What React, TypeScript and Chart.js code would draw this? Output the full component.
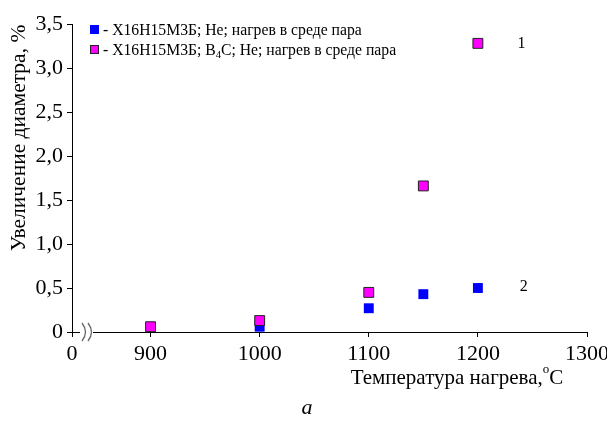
import { useEffect, useRef } from 'react';
import { Chart, registerables } from 'chart.js';

Chart.register(...registerables);

const FONT = '"Liberation Serif", "Times New Roman", serif';

// Series 1 (magenta): Х16Н15М3Б; B4C; He
const tempsB4C = [900, 1000, 1100, 1150, 1200];
const valuesB4C = [0.06, 0.13, 0.45, 1.66, 3.28];

// Series 2 (blue): Х16Н15М3Б; He
const tempsPlain = [1000, 1100, 1150, 1200];
const valuesPlain = [0.06, 0.27, 0.43, 0.5];

const seriesLabels = [
  '- Х16Н15М3Б; Не; нагрев в среде пара',
  '- Х16Н15М3Б; B₄C; Не; нагрев в среде пара',
];
const seriesColors = ['#0000FF', '#FF00FF'];

// x axis is broken: the first tick stands for 0
const xTickValues = [828, 900, 1000, 1100, 1200, 1300];
const xTickLabels = ['0', '900', '1000', '1100', '1200', '1300'];
const yMin = 0;
const yMax = 3.5;
const yStep = 0.5;

const curveLabels = [
  { text: '1', x: 1240, y: 3.27 },
  { text: '2', x: 1242, y: 0.51 },
];

const xTitle = 'Температура нагрева,';
const xTitleUnit = 'C';
const yTitle = 'Увеличение диаметра, %';
const caption = 'а';

const overlayPlugin = {
  id: 'overlay',
  afterDraw(chart: any) {
    const ctx = chart.ctx as CanvasRenderingContext2D;
    const area = chart.chartArea;
    const xs = chart.scales.x;
    const ys = chart.scales.y;
    ctx.save();

    // axis break
    const by = area.bottom;
    const bx = area.left;
    ctx.fillStyle = '#fff';
    ctx.fillRect(bx + 8, by - 2, 13, 4);
    ctx.strokeStyle = '#666';
    ctx.lineWidth = 1.3;
    [bx + 10, bx + 16].forEach((x0) => {
      ctx.beginPath();
      ctx.moveTo(x0, by - 9);
      ctx.quadraticCurveTo(x0 + 7, by, x0, by + 9);
      ctx.stroke();
    });

    // legend
    const lx = area.left + 18;
    const rows = [area.top + 6, area.top + 26];
    ctx.textBaseline = 'alphabetic';
    ctx.textAlign = 'left';
    seriesLabels.forEach((label, i) => {
      const cy = rows[i];
      ctx.fillStyle = seriesColors[i];
      ctx.fillRect(lx, cy - 5, 9, 9);
      if (i === 1) {
        ctx.strokeStyle = '#222';
        ctx.lineWidth = 1;
        ctx.strokeRect(lx + 0.5, cy - 4.5, 8, 8);
      }
      ctx.fillStyle = '#000';
      let tx = lx + 13;
      const parts = label.split('₄');
      parts.forEach((p, k) => {
        ctx.font = `15.7px ${FONT}`;
        ctx.fillText(p, tx, cy + 5);
        tx += ctx.measureText(p).width;
        if (k < parts.length - 1) {
          ctx.font = `10.5px ${FONT}`;
          ctx.fillText('4', tx, cy + 8);
          tx += ctx.measureText('4').width;
        }
      });
    });

    // curve labels
    ctx.font = `16px ${FONT}`;
    ctx.fillStyle = '#000';
    ctx.textAlign = 'center';
    ctx.textBaseline = 'middle';
    curveLabels.forEach((l) => {
      ctx.fillText(l.text, xs.getPixelForValue(l.x), ys.getPixelForValue(l.y));
    });

    // x title
    ctx.textBaseline = 'alphabetic';
    ctx.textAlign = 'left';
    ctx.font = `21px ${FONT}`;
    const w1 = ctx.measureText(xTitle).width;
    ctx.font = `13px ${FONT}`;
    const wo = ctx.measureText('o').width;
    ctx.font = `21px ${FONT}`;
    const w2 = ctx.measureText(xTitleUnit).width;
    const total = w1 + wo + w2;
    let sx = 457 - total / 2;
    const base = 384;
    ctx.fillText(xTitle, sx, base);
    sx += w1;
    ctx.font = `13px ${FONT}`;
    ctx.fillText('o', sx, base - 11);
    sx += wo;
    ctx.font = `21px ${FONT}`;
    ctx.fillText(xTitleUnit, sx, base);

    // y title
    ctx.save();
    ctx.translate(19, 138);
    ctx.rotate(-Math.PI / 2);
    ctx.textAlign = 'center';
    ctx.textBaseline = 'middle';
    ctx.font = `21.5px ${FONT}`;
    ctx.fillText(yTitle, 0, 0);
    ctx.restore();

    // caption
    ctx.textAlign = 'center';
    ctx.font = `italic 22px ${FONT}`;
    ctx.fillText(caption, 307, 414);

    ctx.restore();
  },
};

export default function App() {
  const ref = useRef<HTMLCanvasElement>(null);
  useEffect(() => {
    const canvas = ref.current!;
    const chart = new Chart(canvas, {
      type: 'scatter',
      data: {
        datasets: [
          {
            label: seriesLabels[0],
            data: tempsPlain.map((t, i) => ({ x: t, y: valuesPlain[i] })),
            backgroundColor: seriesColors[0],
            borderColor: seriesColors[0],
            borderWidth: 0,
            pointStyle: 'rect',
            pointRadius: 7,
            order: 2,
            clip: false as any,
          },
          {
            label: seriesLabels[1],
            data: tempsB4C.map((t, i) => ({ x: t, y: valuesB4C[i] })),
            backgroundColor: seriesColors[1],
            borderColor: '#222',
            borderWidth: 1,
            pointStyle: 'rect',
            pointRadius: 7,
            order: 1,
            clip: false as any,
          },
        ],
      },
      options: {
        animation: false,
        responsive: false,
        maintainAspectRatio: false,
        layout: { padding: { top: 24, right: 20, left: 0, bottom: 0 } },
        plugins: { legend: { display: false }, tooltip: { enabled: false } },
        scales: {
          x: {
            type: 'linear',
            min: xTickValues[0],
            max: xTickValues[xTickValues.length - 1],
            afterBuildTicks: (axis: any) => {
              axis.ticks = xTickValues.map((v) => ({ value: v }));
            },
            afterFit: (axis: any) => {
              axis.height = 91;
              axis.paddingLeft = 0;
              axis.paddingRight = 0;
            },
            grid: { drawOnChartArea: false, color: '#000', tickLength: 5 },
            border: { color: '#000', width: 1 },
            ticks: {
              color: '#000',
              font: { family: FONT, size: 22 },
              padding: 4,
              maxRotation: 0,
              autoSkip: false,
              callback: (_v: any, i: number) => xTickLabels[i],
            },
          },
          y: {
            type: 'linear',
            min: yMin,
            max: yMax,
            afterFit: (axis: any) => {
              axis.width = 72;
              axis.paddingTop = 0;
              axis.paddingBottom = 0;
            },
            grid: { drawOnChartArea: false, color: '#000', tickLength: 5 },
            border: { color: '#000', width: 1 },
            ticks: {
              stepSize: yStep,
              color: '#000',
              font: { family: FONT, size: 22 },
              padding: 4,
              callback: (v: any) => (v === 0 ? '0' : Number(v).toFixed(1).replace('.', ',')),
            },
          },
        },
      },
      plugins: [overlayPlugin],
    });
    return () => chart.destroy();
  }, []);
  return (
    <div style={{ position: 'fixed', left: 0, top: 0, width: 607, height: 423, background: '#fff' }}>
      <canvas ref={ref} width={607} height={423} style={{ width: 607, height: 423 }} />
    </div>
  );
}
